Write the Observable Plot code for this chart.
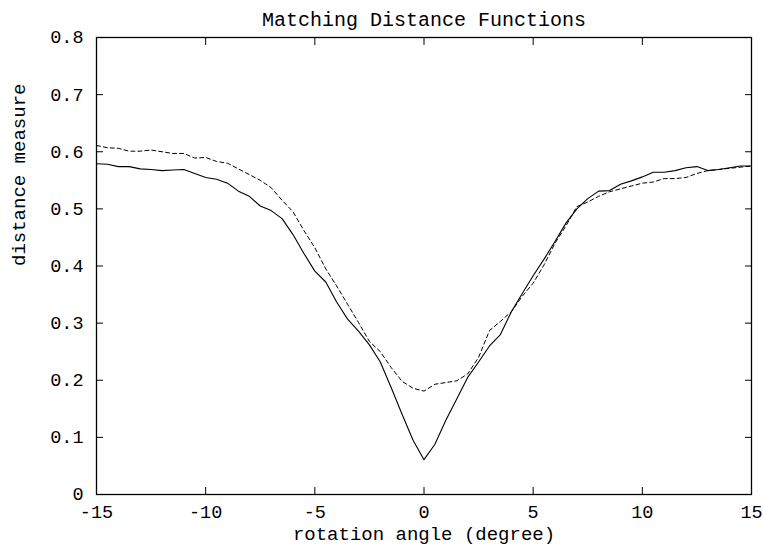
<!DOCTYPE html>
<html>
<head>
<meta charset="utf-8">
<script src="https://cdn.jsdelivr.net/npm/d3@7"></script>
<script src="https://cdn.jsdelivr.net/npm/@observablehq/plot@0.6"></script>
<style>
  html, body { margin: 0; padding: 0; background: #fff; }
  #chart svg { display: block; }
</style>
</head>
<body>
<div id="chart"></div>
<script>
const title = "Matching Distance Functions";
const xLabel = "rotation angle (degree)";
const yLabel = "distance measure";
const xTicks = [-15, -10, -5, 0, 5, 10, 15];
const yTicks = [0, 0.1, 0.2, 0.3, 0.4, 0.5, 0.6, 0.7, 0.8];

const angles = [
  -15, -14.5, -14, -13.5, -13, -12.5, -12, -11.5, -11, -10.5,
  -10, -9.5, -9, -8.5, -8, -7.5, -7, -6.5, -6, -5.5,
  -5, -4.5, -4, -3.5, -3, -2.5, -2, -1.5, -1, -0.5,
  0, 0.5, 1, 1.5, 2, 2.5, 3, 3.5, 4, 4.5,
  5, 5.5, 6, 6.5, 7, 7.5, 8, 8.5, 9, 9.5,
  10, 10.5, 11, 11.5, 12, 12.5, 13, 13.5, 14, 14.5, 15
];
const solidValues = [
  0.579, 0.578, 0.574, 0.574, 0.570, 0.569, 0.567, 0.568, 0.569, 0.562,
  0.555, 0.552, 0.545, 0.531, 0.522, 0.505, 0.497, 0.483, 0.455, 0.422,
  0.391, 0.372, 0.337, 0.307, 0.286, 0.262, 0.232, 0.187, 0.140, 0.095,
  0.061, 0.088, 0.130, 0.167, 0.205, 0.232, 0.260, 0.280, 0.320, 0.352,
  0.383, 0.412, 0.443, 0.475, 0.500, 0.518, 0.531, 0.532, 0.543, 0.549,
  0.556, 0.564, 0.564, 0.567, 0.572, 0.574, 0.567, 0.569, 0.572, 0.575, 0.575
];
const dashedValues = [
  0.611, 0.607, 0.606, 0.601, 0.601, 0.603, 0.600, 0.597, 0.597, 0.589,
  0.590, 0.583, 0.580, 0.570, 0.560, 0.550, 0.537, 0.515, 0.495, 0.462,
  0.432, 0.395, 0.365, 0.333, 0.301, 0.268, 0.250, 0.222, 0.198, 0.186,
  0.181, 0.193, 0.196, 0.199, 0.211, 0.240, 0.287, 0.303, 0.320, 0.347,
  0.370, 0.402, 0.440, 0.470, 0.504, 0.512, 0.522, 0.530, 0.535, 0.540,
  0.545, 0.547, 0.553, 0.553, 0.555, 0.562, 0.567, 0.569, 0.571, 0.573, 0.575
];

const solid = angles.map((a, i) => ({x: a, y: solidValues[i]}));
const dashed = angles.map((a, i) => ({x: a, y: dashedValues[i]}));

const font = "'Liberation Mono', 'DejaVu Sans Mono', monospace";
const blank = () => "";

const chart = Plot.plot({
  width: 763,
  height: 546,
  marginTop: 37,
  marginLeft: 96,
  marginRight: 12,
  marginBottom: 52,
  style: {fontFamily: font, fontSize: "18px", color: "#000", background: "#fff"},
  x: {domain: [-15, 15]},
  y: {domain: [0, 0.8]},
  marks: [
    Plot.axisX(xTicks, {anchor: "bottom", tickSize: 0, tickPadding: 10, fontSize: 18.5, tickFormat: d => String(d), label: null}),
    Plot.axisX(xTicks, {anchor: "bottom", tickSize: -7, tickFormat: blank, label: null}),
    Plot.axisX(xTicks, {anchor: "top", tickSize: -7, tickFormat: blank, label: null}),
    Plot.axisY(yTicks, {anchor: "left", tickSize: 0, tickPadding: 13, fontSize: 18.5, tickFormat: d => d === 0 ? "0" : d.toFixed(1), label: null}),
    Plot.axisY(yTicks, {anchor: "left", tickSize: -7, tickFormat: blank, label: null}),
    Plot.axisY(yTicks, {anchor: "right", tickSize: -7, tickFormat: blank, label: null}),
    Plot.frame({stroke: "#000", strokeWidth: 1.3}),
    Plot.lineY(dashed, {x: "x", y: "y", stroke: "#000", strokeWidth: 1, strokeDasharray: "4,3"}),
    Plot.lineY(solid, {x: "x", y: "y", stroke: "#000", strokeWidth: 1.1}),
    Plot.text([title], {frameAnchor: "top", dy: -26, fontSize: 20, fill: "#000"}),
    Plot.text([xLabel], {frameAnchor: "bottom", dy: 45, fontSize: 19, fill: "#000"}),
    Plot.text([yLabel], {frameAnchor: "left", dx: -78, rotate: -90, fontSize: 19, fill: "#000"})
  ]
});
document.getElementById("chart").appendChild(chart);
</script>
</body>
</html>
